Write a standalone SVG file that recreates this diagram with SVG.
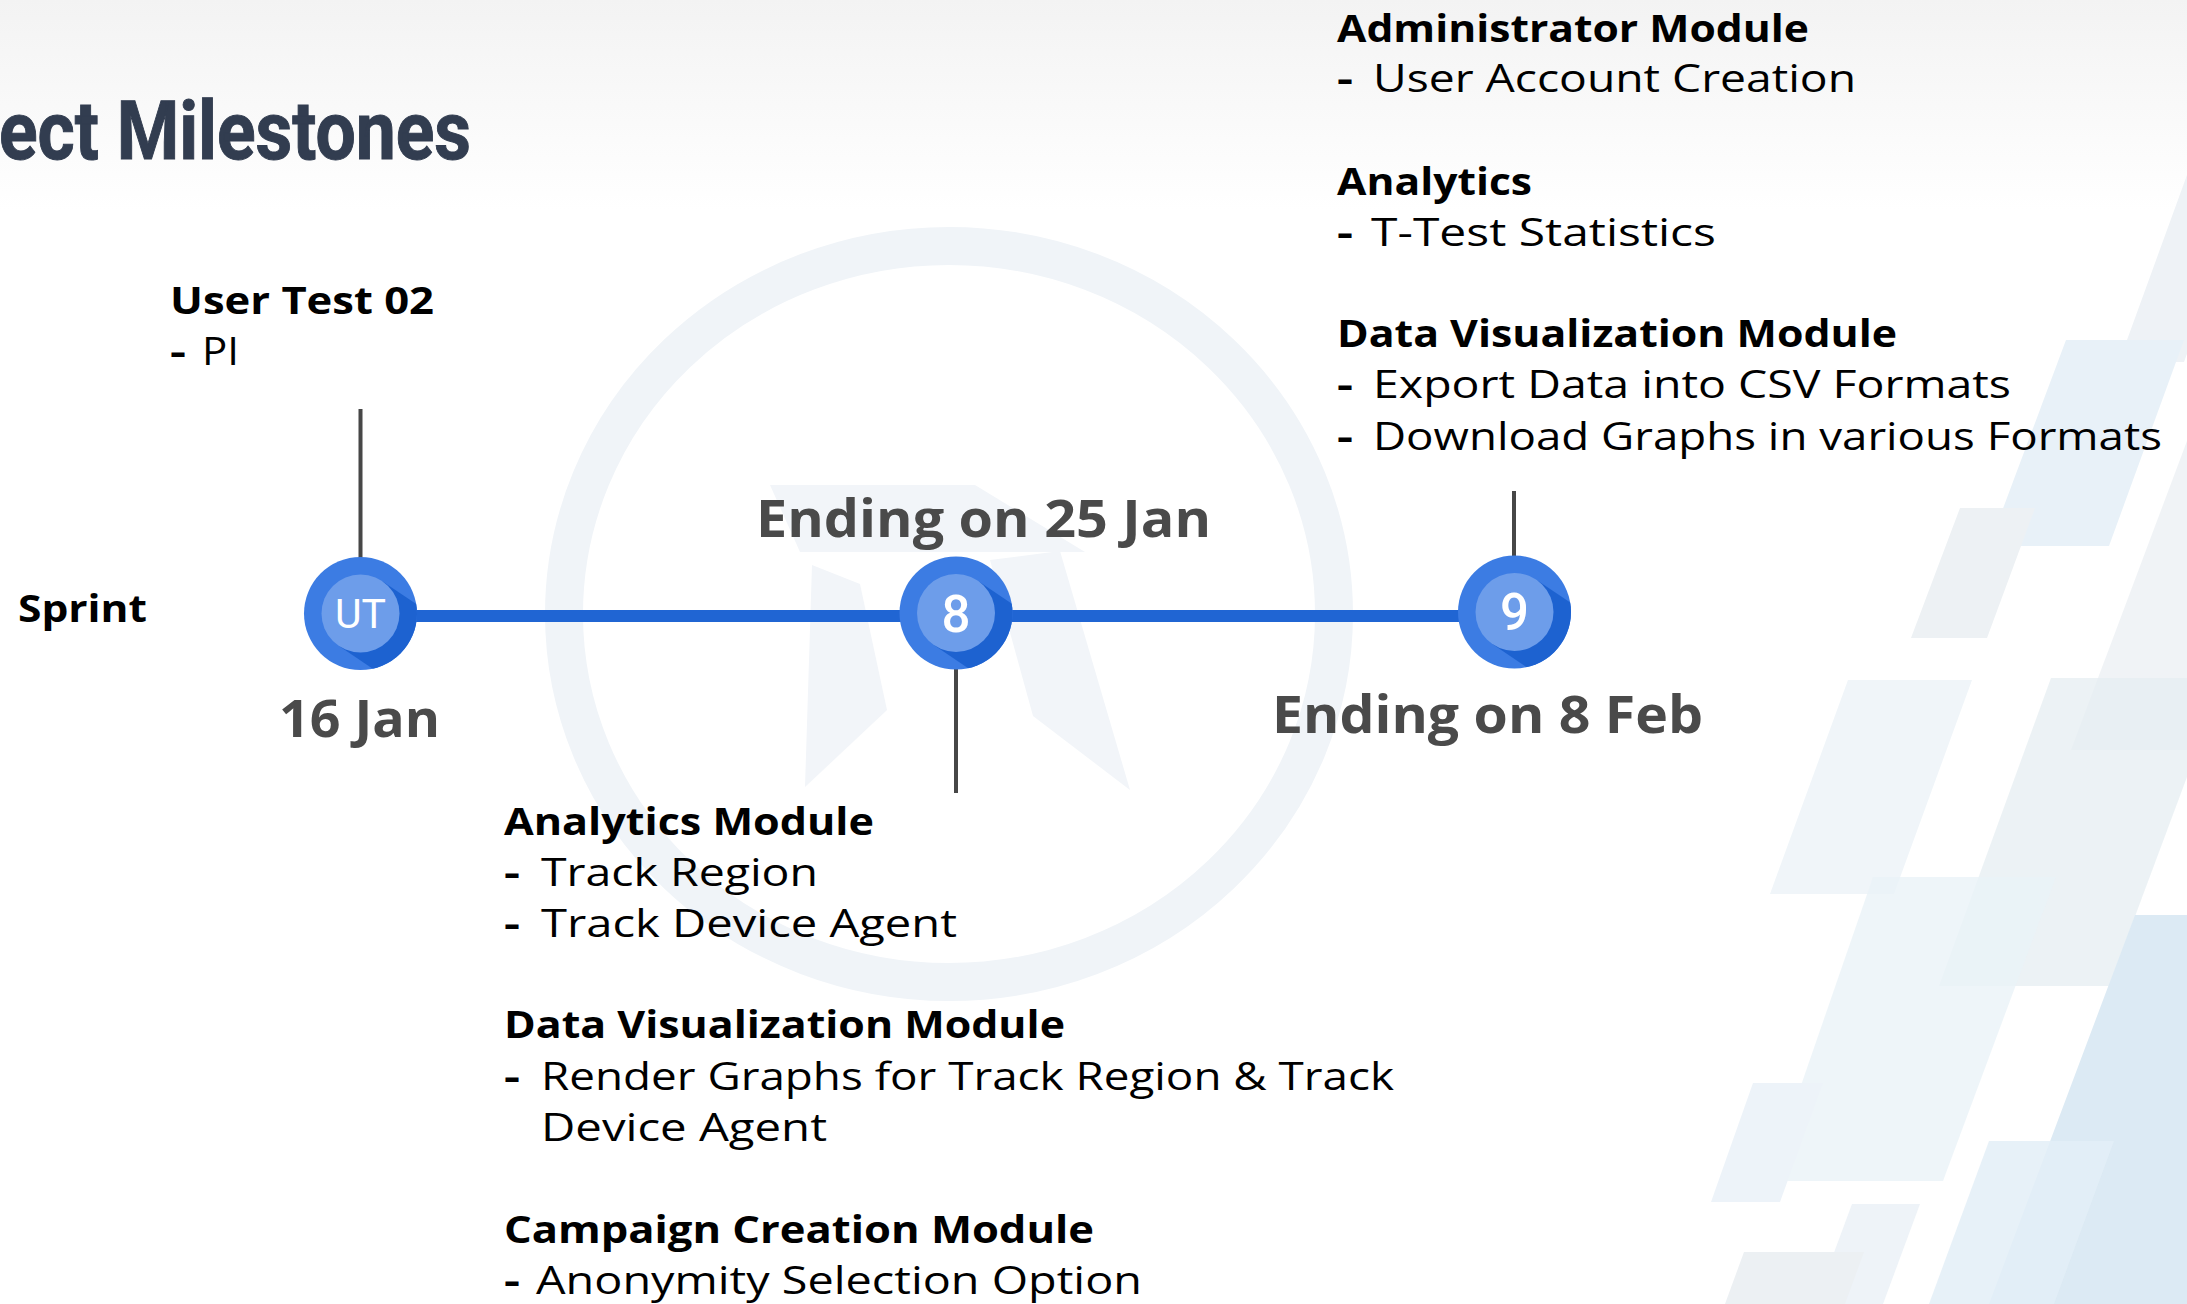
<svg xmlns="http://www.w3.org/2000/svg" width="2187" height="1304" viewBox="0 0 2187 1304">
<defs>
<linearGradient id="topfade" x1="0" y1="0" x2="0" y2="1">
<stop offset="0" stop-color="#f3f3f3"/>
<stop offset="1" stop-color="#ffffff"/>
</linearGradient>
<clipPath id="nodeclip" clipPathUnits="userSpaceOnUse"><circle cx="0" cy="0" r="56.5"/></clipPath>
<style>
.hd{font-family:"Open Sans","Noto Sans",sans-serif;font-weight:700;font-size:38px;fill:#000}
.it{font-family:"Open Sans","Noto Sans",sans-serif;font-weight:500;font-size:38px;fill:#000}
.ds{font-weight:700}
.date{font-family:"Open Sans","Noto Sans",sans-serif;font-weight:700;font-size:52px;fill:#4a4a4a}
.outer{fill:#3c7ce3}
.shadow{fill:#1d62d0}
.inner{fill:#6d9dea}
.lbl{font-family:Roboto,"Open Sans",sans-serif;fill:#fff;text-anchor:middle}
.stem{stroke:#474747;stroke-width:4;fill:none}
.bg{stroke:none}
</style>
</defs>
<rect x="0" y="0" width="2187" height="1304" fill="#ffffff"/>
<rect x="0" y="0" width="2187" height="210" fill="url(#topfade)"/>
<g id="background">
<ellipse cx="949" cy="614" rx="385" ry="368" fill="none" stroke="#f0f4f8" stroke-width="38"/>
<polygon class="bg" fill="#f2f5f9" points="770,485 975,485 1085,552 800,552"/>
<polygon class="bg" fill="#f2f5f9" points="812,565 860,584 887,710 805,787"/>
<polygon class="bg" fill="#f2f5f9" points="990,560 1060,551 1130,790 1033,716"/>
<polygon class="bg" fill="#eef2f6" points="2187,175 2119,362 2184,362 2250,180"/>
<polygon class="bg" fill="#e8f1f8" points="2066,340 2184,340 2109,546 1989,546"/>
<polygon class="bg" fill="#eef2f5" opacity="0.9" points="2187,441 2071,750 2300,750 2300,441"/>
<polygon class="bg" fill="#edf1f4" points="1960,508 2035,508 1987,638 1911,638"/>
<polygon class="bg" fill="#e6edf2" opacity="0.75" points="2051,678 2224,678 2109,986 1939,986"/>
<polygon class="bg" fill="#f0f5f9" points="1848,680 1972,680 1894,894 1770,894"/>
<polygon class="bg" fill="#eaf2f8" opacity="0.8" points="1873,877 2056,877 1943,1181 1768,1181"/>
<polygon class="bg" fill="#edf3f9" points="1753,1083 1823,1083 1780,1202 1711,1202"/>
<polygon class="bg" fill="#dceaf4" points="2135,915 2300,915 2300,1304 1989,1304"/>
<polygon class="bg" fill="#e3eef7" opacity="0.85" points="1989,1141 2114,1141 2054,1304 1929,1304"/>
<polygon class="bg" fill="#eef3f8" points="1852,1204 1920,1204 1883,1304 1815,1304"/>
<polygon class="bg" fill="#ecf0f3" points="1744,1252 1864,1252 1845,1304 1725,1304"/>
</g>
<text id="title" x="-1" y="159" textLength="472" lengthAdjust="spacingAndGlyphs" font-family="Roboto, 'Liberation Sans', sans-serif" font-weight="700" font-size="81" fill="#323d50" stroke="#323d50" stroke-width="1">ect Milestones</text>
<g id="connectors">
<line x1="360" y1="616" x2="1514" y2="616" stroke="#2065d3" stroke-width="12"/>
<line class="stem" x1="360.5" y1="409" x2="360.5" y2="560"/>
<line class="stem" x1="956" y1="668" x2="956" y2="793"/>
<line class="stem" x1="1514" y1="491" x2="1514" y2="560"/>
</g>
<g id="node-ut" transform="translate(360.5,613.5)">
<circle class="outer" r="56.5"/>
<polygon class="shadow" clip-path="url(#nodeclip)" points="21.8,-32.3 104.7,23.6 61.1,88.2 -21.8,32.3"/>
<circle class="inner" r="39"/>
<text class="lbl" x="0" y="14.5" font-size="41">UT</text>
</g>
<g id="node-8" transform="translate(956,613)">
<circle class="outer" r="56.5"/>
<polygon class="shadow" clip-path="url(#nodeclip)" points="21.8,-32.3 104.7,23.6 61.1,88.2 -21.8,32.3"/>
<circle class="inner" r="39"/>
<text class="lbl" x="0" y="18.5" font-size="51" font-family="'Open Sans',sans-serif" font-weight="500">8</text>
</g>
<g id="node-9" transform="translate(1514.5,612)">
<circle class="outer" r="56.5"/>
<polygon class="shadow" clip-path="url(#nodeclip)" points="21.8,-32.3 104.7,23.6 61.1,88.2 -21.8,32.3"/>
<circle class="inner" r="39"/>
<text class="lbl" x="0" y="18" font-size="51" font-family="'Open Sans',sans-serif" font-weight="500">9</text>
</g>
<g id="label-sprint">
<text class="hd" x="18" y="622" font-size="40" textLength="129" lengthAdjust="spacingAndGlyphs">Sprint</text>
</g>
<g id="date-ut">
<text class="date" x="279" y="737" textLength="161" lengthAdjust="spacingAndGlyphs">16 Jan</text>
</g>
<g id="date-8">
<text class="date" x="756" y="537" textLength="455" lengthAdjust="spacingAndGlyphs">Ending on 25 Jan</text>
</g>
<g id="date-9">
<text class="date" x="1272" y="733" textLength="431" lengthAdjust="spacingAndGlyphs">Ending on 8 Feb</text>
</g>
<g id="notes-ut">
<text class="hd" x="170" y="314" font-size="42" textLength="264" lengthAdjust="spacingAndGlyphs">User Test 02</text>
<text class="it" x="170" y="365" font-size="42"><tspan class="ds" textLength="16" lengthAdjust="spacingAndGlyphs">-</tspan> <tspan x="202" textLength="37" lengthAdjust="spacingAndGlyphs">PI</tspan></text>
</g>
<g id="notes-9">
<text class="hd" x="1337" y="42" textLength="472" lengthAdjust="spacingAndGlyphs">Administrator Module</text>
<text class="it" x="1337" y="92"><tspan class="ds" textLength="16" lengthAdjust="spacingAndGlyphs">-</tspan> <tspan x="1373" textLength="483" lengthAdjust="spacingAndGlyphs">User Account Creation</tspan></text>
<text class="hd" x="1337" y="195" textLength="195" lengthAdjust="spacingAndGlyphs">Analytics</text>
<text class="it" x="1337" y="246"><tspan class="ds" textLength="16" lengthAdjust="spacingAndGlyphs">-</tspan> <tspan x="1371" textLength="345" lengthAdjust="spacingAndGlyphs">T-Test Statistics</tspan></text>
<text class="hd" x="1337" y="347" textLength="560" lengthAdjust="spacingAndGlyphs">Data Visualization Module</text>
<text class="it" x="1337" y="398"><tspan class="ds" textLength="16" lengthAdjust="spacingAndGlyphs">-</tspan> <tspan x="1373" textLength="638" lengthAdjust="spacingAndGlyphs">Export Data into CSV Formats</tspan></text>
<text class="it" x="1337" y="450"><tspan class="ds" textLength="16" lengthAdjust="spacingAndGlyphs">-</tspan> <tspan x="1373" textLength="789" lengthAdjust="spacingAndGlyphs">Download Graphs in various Formats</tspan></text>
</g>
<g id="notes-8">
<text class="hd" x="504" y="835" textLength="370" lengthAdjust="spacingAndGlyphs">Analytics Module</text>
<text class="it" x="504" y="886"><tspan class="ds" textLength="16" lengthAdjust="spacingAndGlyphs">-</tspan> <tspan x="541" textLength="277" lengthAdjust="spacingAndGlyphs">Track Region</tspan></text>
<text class="it" x="504" y="937"><tspan class="ds" textLength="16" lengthAdjust="spacingAndGlyphs">-</tspan> <tspan x="541" textLength="416" lengthAdjust="spacingAndGlyphs">Track Device Agent</tspan></text>
<text class="hd" x="504" y="1038" textLength="561" lengthAdjust="spacingAndGlyphs">Data Visualization Module</text>
<text class="it" x="504" y="1090"><tspan class="ds" textLength="16" lengthAdjust="spacingAndGlyphs">-</tspan> <tspan x="541" textLength="853" lengthAdjust="spacingAndGlyphs">Render Graphs for Track Region &amp; Track</tspan></text>
<text class="it" x="541" y="1141" textLength="286" lengthAdjust="spacingAndGlyphs">Device Agent</text>
<text class="hd" x="504" y="1243" textLength="590" lengthAdjust="spacingAndGlyphs">Campaign Creation Module</text>
<text class="it" x="504" y="1294"><tspan class="ds" textLength="16" lengthAdjust="spacingAndGlyphs">-</tspan> <tspan x="536" textLength="606" lengthAdjust="spacingAndGlyphs">Anonymity Selection Option</tspan></text>
</g>
</svg>
